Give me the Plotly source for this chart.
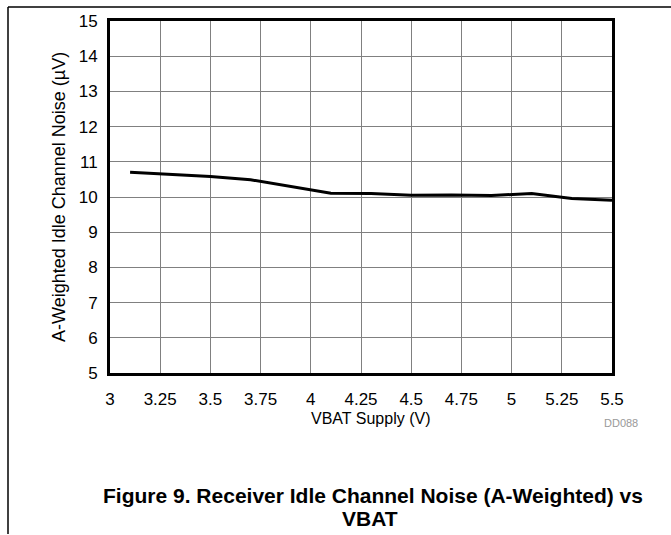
import plotly.graph_objects as go

vbat = [3.1, 3.3, 3.5, 3.7, 3.9, 4.1, 4.3, 4.5, 4.7, 4.9, 5.1, 5.3, 5.5]
noise = [10.70, 10.65, 10.58, 10.49, 10.31, 10.11, 10.10, 10.05, 10.06, 10.04, 10.10, 9.96, 9.91]

x_ticks = [3, 3.25, 3.5, 3.75, 4, 4.25, 4.5, 4.75, 5, 5.25, 5.5]
x_tick_text = ["3", "3.25", "3.5", "3.75", "4", "4.25", "4.5", "4.75", "5", "5.25", "5.5"]
y_ticks = [5, 6, 7, 8, 9, 10, 11, 12, 13, 14, 15]
y_tick_text = ["5", "6", "7", "8", "9", "10", "11", "12", "13", "14", "15"]

FONT = "Liberation Sans, Arial, sans-serif"

fig = go.Figure()
fig.add_trace(go.Scatter(x=vbat, y=noise, mode="lines",
                         line=dict(color="black", width=3), showlegend=False))

W, H = 671, 535
L, R, T, B = 110, 59, 19, 162
pw, ph = W - L - R, H - T - B

def px(xp):
    return (xp - L) / pw

def py(yp):
    return (H - B - yp) / ph

axis_common = dict(showgrid=True, gridcolor="#808080", gridwidth=1.3,
                   showline=True, linecolor="black", linewidth=3, mirror=True,
                   zeroline=False, ticks="", tickfont=dict(family=FONT, size=17, color="black"))

fig.update_layout(
    width=W, height=H,
    margin=dict(l=L, r=R, t=T, b=B),
    paper_bgcolor="white", plot_bgcolor="white",
    xaxis=dict(range=[3, 5.5], tickvals=x_ticks, ticktext=x_tick_text,
               ticklabelstandoff=9, **axis_common),
    yaxis=dict(range=[5, 15], tickvals=y_ticks, ticktext=y_tick_text,
               ticklabelstandoff=6, **axis_common),
    shapes=[
        dict(type="line", xref="paper", yref="paper", x0=px(8), x1=px(8), y0=py(5), y1=py(535),
             line=dict(color="black", width=1.5)),
        dict(type="line", xref="paper", yref="paper", x0=px(8), x1=px(671), y0=py(5), y1=py(5),
             line=dict(color="black", width=1.5)),
    ],
    annotations=[
        dict(text="VBAT Supply (V)", xref="paper", yref="paper", x=px(370), y=py(419),
             showarrow=False, xanchor="center", yanchor="middle",
             font=dict(family=FONT, size=16, color="black")),
        dict(text="A-Weighted Idle Channel Noise (µV)", xref="paper", yref="paper",
             x=px(59), y=py(196), textangle=-90, showarrow=False,
             xanchor="center", yanchor="middle",
             font=dict(family=FONT, size=18, color="black")),
        dict(text="DD088", xref="paper", yref="paper", x=px(640), y=py(423),
             showarrow=False, xanchor="right", yanchor="middle",
             font=dict(family=FONT, size=11, color="#999999")),
        dict(text="<b>Figure 9. Receiver Idle Channel Noise (A-Weighted) vs</b>",
             xref="paper", yref="paper", x=px(373), y=py(496),
             showarrow=False, xanchor="center", yanchor="middle",
             font=dict(family=FONT, size=21, color="black")),
        dict(text="<b>VBAT</b>", xref="paper", yref="paper", x=px(370), y=py(519),
             showarrow=False, xanchor="center", yanchor="middle",
             font=dict(family=FONT, size=21, color="black")),
    ],
)

fig.write_html("out.html", config={"displayModeBar": False},
               post_script="document.body.style.margin='0';document.body.style.overflow='hidden';")
